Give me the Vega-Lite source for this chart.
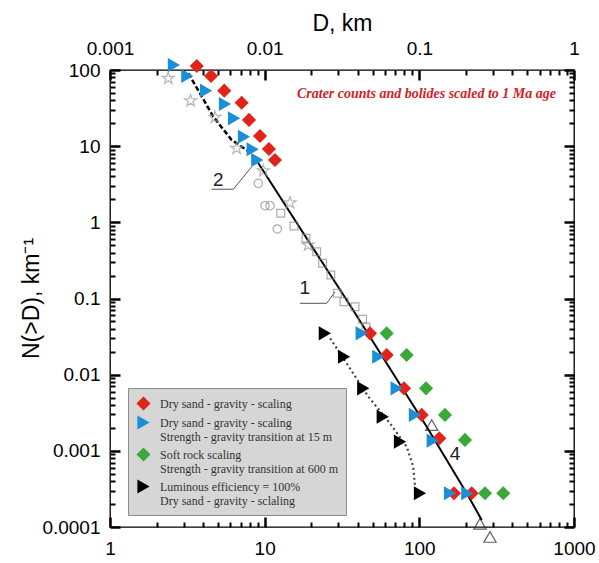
{
  "$schema": "https://vega.github.io/schema/vega-lite/v6.json",
  "width": 464,
  "height": 457,
  "autosize": {"type": "none"},
  "padding": {"left": 110, "top": 70, "right": 25, "bottom": 36},
  "background": "white",
  "config": {"view": {"stroke": "black", "strokeWidth": 1.3}, "axis": {"grid": false}},
  "datasets": {
    "gray": [
      {"kind": "star", "D": 2.38, "N": 77.8},
      {"kind": "star", "D": 3.32, "N": 39.5},
      {"kind": "star", "D": 4.77, "N": 23.9},
      {"kind": "star", "D": 6.59, "N": 9.38},
      {"kind": "star", "D": 9.8, "N": 4.76},
      {"kind": "star", "D": 14.58, "N": 1.81},
      {"kind": "star", "D": 19.1, "N": 0.504},
      {"kind": "circle", "D": 9.1, "N": 3.25},
      {"kind": "circle", "D": 10.05, "N": 1.654},
      {"kind": "circle", "D": 10.83, "N": 1.654},
      {"kind": "circle", "D": 12.07, "N": 0.818},
      {"kind": "square", "D": 12.7, "N": 1.315},
      {"kind": "square", "D": 15.48, "N": 0.895},
      {"kind": "square", "D": 18.5, "N": 0.617},
      {"kind": "square", "D": 21.7, "N": 0.412},
      {"kind": "square", "D": 23.7, "N": 0.29},
      {"kind": "square", "D": 26.8, "N": 0.204},
      {"kind": "square", "D": 29.5, "N": 0.117},
      {"kind": "square", "D": 32.6, "N": 0.0908},
      {"kind": "square", "D": 38.4, "N": 0.0781},
      {"kind": "square", "D": 43.0, "N": 0.0533},
      {"kind": "square", "D": 45.2, "N": 0.0423},
      {"kind": "triangle", "D": 120.2, "N": 0.00218},
      {"kind": "triangle", "D": 246.6, "N": 0.00011},
      {"kind": "triangle", "D": 286.4, "N": 0.000074}
    ],
    "line1": [
      {"D": 8.66, "N": 6.99},
      {"D": 16.92, "N": 0.843},
      {"D": 33.9, "N": 0.0955},
      {"D": 111.6, "N": 0.00207},
      {"D": 202.4, "N": 0.000277},
      {"D": 253.1, "N": 0.000124}
    ],
    "line2": [
      {"D": 3.21, "N": 90.5},
      {"D": 3.82, "N": 49.4},
      {"D": 4.65, "N": 24.4},
      {"D": 6.12, "N": 12.05},
      {"D": 7.65, "N": 8.91},
      {"D": 8.88, "N": 6.58}
    ],
    "line4": [
      {"D": 26.5, "N": 0.03},
      {"D": 33.9, "N": 0.0141},
      {"D": 46.8, "N": 0.00514},
      {"D": 64.6, "N": 0.0023},
      {"D": 82.9, "N": 0.00113},
      {"D": 91.4, "N": 0.000619},
      {"D": 93.7, "N": 0.000338}
    ],
    "leaders": [
      {"group": "2", "D": 4.54, "N": 2.72},
      {"group": "2", "D": 6.27, "N": 2.72},
      {"group": "2", "D": 8.25, "N": 5.37},
      {"group": "1", "D": 16.92, "N": 0.0865},
      {"group": "1", "D": 25.2, "N": 0.0865},
      {"group": "1", "D": 28.5, "N": 0.1228}
    ],
    "labels": [
      {"text": "2", "D": 5.01, "N": 3.6},
      {"text": "1", "D": 18.2, "N": 0.136},
      {"text": "4", "D": 170.1, "N": 0.00091}
    ],
    "colored": [
      {"series": "Dry sand - gravity - scaling", "D": 3.64, "N": 112.8},
      {"series": "Dry sand - gravity - scaling", "D": 4.5, "N": 83.4},
      {"series": "Dry sand - gravity - scaling", "D": 5.48, "N": 53.5},
      {"series": "Dry sand - gravity - scaling", "D": 7.1, "N": 37.2},
      {"series": "Dry sand - gravity - scaling", "D": 7.92, "N": 22.1},
      {"series": "Dry sand - gravity - scaling", "D": 9.33, "N": 13.6},
      {"series": "Dry sand - gravity - scaling", "D": 10.66, "N": 9.18},
      {"series": "Dry sand - gravity - scaling", "D": 11.66, "N": 6.58},
      {"series": "Dry sand - gravity - scaling", "D": 47.97, "N": 0.0349},
      {"series": "Dry sand - gravity - scaling", "D": 61.5, "N": 0.0181},
      {"series": "Dry sand - gravity - scaling", "D": 79.6, "N": 0.00662},
      {"series": "Dry sand - gravity - scaling", "D": 103.6, "N": 0.00296},
      {"series": "Dry sand - gravity - scaling", "D": 134.6, "N": 0.00146},
      {"series": "Dry sand - gravity - scaling", "D": 167.5, "N": 0.000277},
      {"series": "Dry sand - gravity - scaling", "D": 218.0, "N": 0.000277},
      {"series": "Dry sand - gravity - scaling|Strength - gravity transition at 15 m", "D": 2.59, "N": 116.3},
      {"series": "Dry sand - gravity - scaling|Strength - gravity transition at 15 m", "D": 3.16, "N": 83.4},
      {"series": "Dry sand - gravity - scaling|Strength - gravity transition at 15 m", "D": 4.18, "N": 53.5},
      {"series": "Dry sand - gravity - scaling|Strength - gravity transition at 15 m", "D": 5.54, "N": 35.8},
      {"series": "Dry sand - gravity - scaling|Strength - gravity transition at 15 m", "D": 6.34, "N": 23.2},
      {"series": "Dry sand - gravity - scaling|Strength - gravity transition at 15 m", "D": 7.35, "N": 13.3},
      {"series": "Dry sand - gravity - scaling|Strength - gravity transition at 15 m", "D": 8.37, "N": 9.1},
      {"series": "Dry sand - gravity - scaling|Strength - gravity transition at 15 m", "D": 8.96, "N": 6.58},
      {"series": "Dry sand - gravity - scaling|Strength - gravity transition at 15 m", "D": 42.4, "N": 0.0349},
      {"series": "Dry sand - gravity - scaling|Strength - gravity transition at 15 m", "D": 54.3, "N": 0.0172},
      {"series": "Dry sand - gravity - scaling|Strength - gravity transition at 15 m", "D": 71.4, "N": 0.00662},
      {"series": "Dry sand - gravity - scaling|Strength - gravity transition at 15 m", "D": 93.7, "N": 0.00296},
      {"series": "Dry sand - gravity - scaling|Strength - gravity transition at 15 m", "D": 122.1, "N": 0.00136},
      {"series": "Dry sand - gravity - scaling|Strength - gravity transition at 15 m", "D": 157.8, "N": 0.000277},
      {"series": "Dry sand - gravity - scaling|Strength - gravity transition at 15 m", "D": 204.2, "N": 0.000277},
      {"series": "Soft rock scaling|Strength - gravity transition at 600 m", "D": 61.5, "N": 0.0349},
      {"series": "Soft rock scaling|Strength - gravity transition at 600 m", "D": 82.8, "N": 0.0181},
      {"series": "Soft rock scaling|Strength - gravity transition at 600 m", "D": 110.5, "N": 0.00662},
      {"series": "Soft rock scaling|Strength - gravity transition at 600 m", "D": 146.5, "N": 0.00296},
      {"series": "Soft rock scaling|Strength - gravity transition at 600 m", "D": 197.3, "N": 0.00139},
      {"series": "Soft rock scaling|Strength - gravity transition at 600 m", "D": 265.8, "N": 0.000277},
      {"series": "Soft rock scaling|Strength - gravity transition at 600 m", "D": 349.0, "N": 0.000277},
      {"series": "Luminous efficiency = 100%|Dry sand - gravity - sclaling", "D": 24.5, "N": 0.0349},
      {"series": "Luminous efficiency = 100%|Dry sand - gravity - sclaling", "D": 32.6, "N": 0.0172},
      {"series": "Luminous efficiency = 100%|Dry sand - gravity - sclaling", "D": 43.4, "N": 0.00662},
      {"series": "Luminous efficiency = 100%|Dry sand - gravity - sclaling", "D": 58.0, "N": 0.00281},
      {"series": "Luminous efficiency = 100%|Dry sand - gravity - sclaling", "D": 75.0, "N": 0.00132},
      {"series": "Luminous efficiency = 100%|Dry sand - gravity - sclaling", "D": 101.0, "N": 0.000277}
    ]
  },
  "layer": [
    {
      "data": {"name": "line1"},
      "mark": {"type": "line", "color": "black", "strokeWidth": 2},
      "encoding": {
        "x": {"field": "D", "type": "quantitative", "scale": {"type": "log", "domain": [1, 1000], "nice": false},
          "axis": {"orient": "bottom", "title": null, "values": [1, 10, 100, 1000], "offset": -10, "domain": false, "zindex": 5,
            "labelExpr": "datum.value==1?'1':datum.value==10?'10':datum.value==100?'100':'1000'",
            "ticks": true, "tickSize": 10, "tickColor": "#000000", "tickWidth": 2.5,
            "labelPadding": 12, "labelFont": "Liberation Sans", "labelFontSize": 19, "labelColor": "black",
            "labelOverlap": false, "labelFlush": false, "labelBound": false}},
        "y": {"field": "N", "type": "quantitative", "scale": {"type": "log", "domain": [0.0001, 100], "nice": false},
          "axis": {"orient": "left", "title": "N(>D), km⁻¹", "values": [0.0001, 0.001, 0.01, 0.1, 1, 10, 100], "offset": -10, "domain": false, "zindex": 5,
            "labelExpr": "datum.value==0.0001?'0.0001':datum.value==0.001?'0.001':datum.value==0.01?'0.01':datum.value==0.1?'0.1':datum.value==1?'1':datum.value==10?'10':'100'",
            "ticks": true, "tickSize": 10, "tickColor": "#000000", "tickWidth": 2.5,
            "labelPadding": 10, "labelFont": "Liberation Sans", "labelFontSize": 19, "labelColor": "black",
            "labelOverlap": false, "labelFlush": false, "labelBound": false,
            "titleFont": "Liberation Sans", "titleFontSize": 23, "titleFontWeight": "normal", "titleColor": "black",
            "titleX": -89, "titleY": 228, "titleBaseline": "middle", "titleAngle": -90, "titleAlign": "center"}}
      }
    },
    {
      "data": {"name": "line2"},
      "mark": {"type": "line", "color": "black", "strokeWidth": 2.5, "strokeDash": [5, 2.5]},
      "encoding": {
        "x": {"field": "D", "type": "quantitative", "scale": {"type": "log", "domain": [1, 1000], "nice": false},
          "axis": {"orient": "top", "title": "D, km", "values": [1, 10, 100, 1000], "offset": -10, "domain": false, "zindex": 5,
            "labelExpr": "datum.value==1?'0.001':datum.value==10?'0.01':datum.value==100?'0.1':'1'",
            "ticks": true, "tickSize": 10, "tickColor": "#000000", "tickWidth": 2.5,
            "labelPadding": 12, "labelFont": "Liberation Sans", "labelFontSize": 19, "labelColor": "black",
            "labelOverlap": false, "labelFlush": false, "labelBound": false,
            "titleFont": "Liberation Sans", "titleFontSize": 23, "titleFontWeight": "normal", "titleColor": "black",
            "titleY": -50, "titleBaseline": "alphabetic"}},
        "y": {"field": "N", "type": "quantitative", "scale": {"type": "log", "domain": [0.0001, 100], "nice": false},
          "axis": {"orient": "right", "title": null, "labels": false, "values": [0.0001, 0.001, 0.01, 0.1, 1, 10, 100], "offset": -10, "domain": false, "zindex": 5,
            "ticks": true, "tickSize": 10, "tickColor": "#000000", "tickWidth": 2.5}}
      }
    },
    {
      "data": {"name": "line4"},
      "mark": {"type": "line", "color": "#444444", "strokeWidth": 2.2, "strokeDash": [2, 3]},
      "encoding": {
        "x": {"field": "D", "type": "quantitative", "scale": {"type": "log", "domain": [1, 1000], "nice": false},
          "axis": {"orient": "bottom", "title": null, "labels": false, "domain": false, "offset": -5,
            "values": [2,3,4,5,6,7,8,9,20,30,40,50,60,70,80,90,200,300,400,500,600,700,800,900],
            "ticks": true, "tickSize": 5, "tickColor": "#000000", "tickWidth": 2}},
        "y": {"field": "N", "type": "quantitative", "scale": {"type": "log", "domain": [0.0001, 100], "nice": false},
          "axis": {"orient": "left", "title": null, "labels": false, "domain": false, "offset": -5,
            "values": [0.0002,0.0003,0.0004,0.0005,0.0006,0.0007,0.0008,0.0009,0.002,0.003,0.004,0.005,0.006,0.007,0.008,0.009,0.02,0.03,0.04,0.05,0.06,0.07,0.08,0.09,0.2,0.3,0.4,0.5,0.6,0.7,0.8,0.9,2,3,4,5,6,7,8,9,20,30,40,50,60,70,80,90],
            "ticks": true, "tickSize": 5, "tickColor": "#000000", "tickWidth": 2}}
      }
    },
    {
      "data": {"name": "leaders"},
      "mark": {"type": "line", "color": "#555555", "strokeWidth": 1},
      "encoding": {
        "x": {"field": "D", "type": "quantitative", "scale": {"type": "log", "domain": [1, 1000], "nice": false},
          "axis": {"orient": "top", "title": null, "labels": false, "domain": false, "offset": -5,
            "values": [2,3,4,5,6,7,8,9,20,30,40,50,60,70,80,90,200,300,400,500,600,700,800,900],
            "ticks": true, "tickSize": 5, "tickColor": "#000000", "tickWidth": 2}},
        "y": {"field": "N", "type": "quantitative", "scale": {"type": "log", "domain": [0.0001, 100], "nice": false},
          "axis": {"orient": "right", "title": null, "labels": false, "domain": false, "offset": -5,
            "values": [0.0002,0.0003,0.0004,0.0005,0.0006,0.0007,0.0008,0.0009,0.002,0.003,0.004,0.005,0.006,0.007,0.008,0.009,0.02,0.03,0.04,0.05,0.06,0.07,0.08,0.09,0.2,0.3,0.4,0.5,0.6,0.7,0.8,0.9,2,3,4,5,6,7,8,9,20,30,40,50,60,70,80,90],
            "ticks": true, "tickSize": 5, "tickColor": "#000000", "tickWidth": 2}},
        "detail": {"field": "group", "type": "nominal"}
      }
    },
    {
      "data": {"name": "gray"},
      "transform": [{"filter": "datum.kind == 'star'"}],
      "mark": {"type": "point", "filled": false, "strokeWidth": 1.2, "color": "#999999", "size": 160, "shape": "M0,-1L0.2245,-0.309L0.951,-0.309L0.363,0.118L0.588,0.809L0,0.382L-0.588,0.809L-0.363,0.118L-0.951,-0.309L-0.2245,-0.309Z"},
      "encoding": {
        "x": {"field": "D", "type": "quantitative", "scale": {"type": "log", "domain": [1, 1000], "nice": false}, "axis": null},
        "y": {"field": "N", "type": "quantitative", "scale": {"type": "log", "domain": [0.0001, 100], "nice": false}, "axis": null}
      }
    },
    {
      "data": {"name": "gray"},
      "transform": [{"filter": "datum.kind == 'circle'"}],
      "mark": {"type": "point", "filled": false, "strokeWidth": 1.2, "color": "#8a8a8a", "size": 70, "shape": "circle"},
      "encoding": {
        "x": {"field": "D", "type": "quantitative", "scale": {"type": "log", "domain": [1, 1000], "nice": false}, "axis": null},
        "y": {"field": "N", "type": "quantitative", "scale": {"type": "log", "domain": [0.0001, 100], "nice": false}, "axis": null}
      }
    },
    {
      "data": {"name": "gray"},
      "transform": [{"filter": "datum.kind == 'square'"}],
      "mark": {"type": "point", "filled": false, "strokeWidth": 1.2, "color": "#8a8a8a", "size": 60, "shape": "square"},
      "encoding": {
        "x": {"field": "D", "type": "quantitative", "scale": {"type": "log", "domain": [1, 1000], "nice": false}, "axis": null},
        "y": {"field": "N", "type": "quantitative", "scale": {"type": "log", "domain": [0.0001, 100], "nice": false}, "axis": null}
      }
    },
    {
      "data": {"name": "gray"},
      "transform": [{"filter": "datum.kind == 'triangle'"}],
      "mark": {"type": "point", "filled": false, "strokeWidth": 1.2, "color": "#222222", "size": 150, "shape": "triangle-up"},
      "encoding": {
        "x": {"field": "D", "type": "quantitative", "scale": {"type": "log", "domain": [1, 1000], "nice": false}, "axis": null},
        "y": {"field": "N", "type": "quantitative", "scale": {"type": "log", "domain": [0.0001, 100], "nice": false}, "axis": null}
      }
    },
    {
      "data": {"name": "colored"},
      "mark": {"type": "point", "filled": true, "strokeWidth": 0, "opacity": 1, "size": 200},
      "encoding": {
        "x": {"field": "D", "type": "quantitative", "scale": {"type": "log", "domain": [1, 1000], "nice": false}, "axis": null},
        "y": {"field": "N", "type": "quantitative", "scale": {"type": "log", "domain": [0.0001, 100], "nice": false}, "axis": null},
        "color": {"field": "series", "type": "nominal",
          "scale": {"domain": ["Dry sand - gravity - scaling", "Dry sand - gravity - scaling|Strength - gravity transition at 15 m", "Soft rock scaling|Strength - gravity transition at 600 m", "Luminous efficiency = 100%|Dry sand - gravity - sclaling"],
            "range": ["#e2231a", "#1b8fd6", "#3ba93a", "#000000"]},
          "legend": {"orient": "none", "legendX": 18, "legendY": 318, "title": null,
            "fillColor": "#d6d6d6", "strokeColor": "#8c8c8c", "padding": 8,
            "labelFont": "Liberation Serif", "labelFontSize": 12, "labelColor": "#333333", "labelLimit": 400,
            "labelExpr": "split(datum.label,'|')", "symbolSize": 200, "symbolStrokeWidth": 0,
            "rowPadding": 4, "labelOffset": 9}},
        "shape": {"field": "series", "type": "nominal",
          "scale": {"domain": ["Dry sand - gravity - scaling", "Dry sand - gravity - scaling|Strength - gravity transition at 15 m", "Soft rock scaling|Strength - gravity transition at 600 m", "Luminous efficiency = 100%|Dry sand - gravity - sclaling"],
            "range": ["diamond", "triangle-right", "diamond", "triangle-right"]},
          "legend": {"orient": "none", "legendX": 18, "legendY": 318, "title": null,
            "fillColor": "#d6d6d6", "strokeColor": "#8c8c8c", "padding": 8,
            "labelFont": "Liberation Serif", "labelFontSize": 12, "labelColor": "#333333", "labelLimit": 400,
            "labelExpr": "split(datum.label,'|')", "symbolSize": 200, "symbolStrokeWidth": 0,
            "rowPadding": 4, "labelOffset": 9}}
      }
    },
    {
      "data": {"name": "labels"},
      "mark": {"type": "text", "font": "Liberation Sans", "fontSize": 19, "color": "#222222", "align": "center", "baseline": "middle"},
      "encoding": {
        "x": {"field": "D", "type": "quantitative", "scale": {"type": "log", "domain": [1, 1000], "nice": false}, "axis": null},
        "y": {"field": "N", "type": "quantitative", "scale": {"type": "log", "domain": [0.0001, 100], "nice": false}, "axis": null},
        "text": {"field": "text"}
      }
    },
    {
      "data": {"values": [{"note": "Crater counts and bolides scaled to 1 Ma age"}]},
      "mark": {"type": "text", "font": "Liberation Serif", "fontSize": 14, "fontStyle": "italic", "fontWeight": "bold", "color": "#d42027", "align": "right", "baseline": "middle"},
      "encoding": {
        "x": {"datum": 764.8, "type": "quantitative", "scale": {"type": "log", "domain": [1, 1000], "nice": false}, "axis": null},
        "y": {"datum": 48.4, "type": "quantitative", "scale": {"type": "log", "domain": [0.0001, 100], "nice": false}, "axis": null},
        "text": {"field": "note"}
      }
    }
  ],
  "resolve": {
    "axis": {"x": "independent", "y": "independent"}
  }
}
